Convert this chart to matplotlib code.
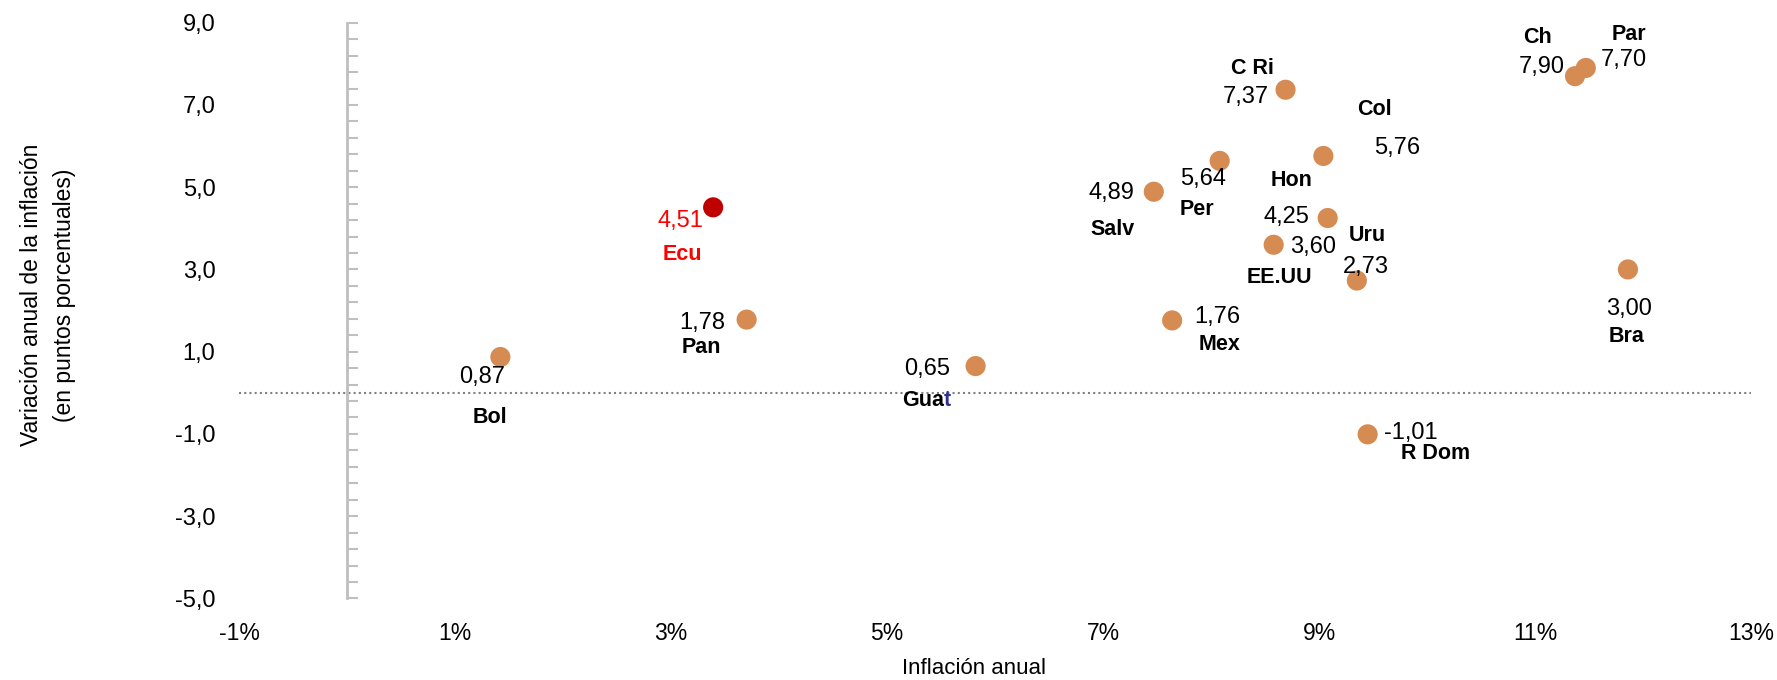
import matplotlib
matplotlib.use("Agg")
import matplotlib.pyplot as plt
from matplotlib.ticker import MultipleLocator, FuncFormatter

# data
countries = ["Bol", "Ecu", "Pan", "Guat", "Salv", "Mex", "Per", "C Ri",
             "EE.UU", "Col", "Hon", "Uru", "R Dom", "Par", "Ch", "Bra"]
inflation = [1.42, 3.39, 3.70, 5.82, 7.47, 7.64, 8.08, 8.69,
             8.58, 9.04, 9.08, 9.35, 9.45, 11.37, 11.47, 11.86]
variation = [0.87, 4.51, 1.78, 0.65, 4.89, 1.76, 5.64, 7.37,
             3.60, 5.76, 4.25, 2.73, -1.01, 7.70, 7.90, 3.00]
highlight = "Ecu"
y_ticks = [-5, -3, -1, 1, 3, 5, 7, 9]
x_ticks = [-1, 1, 3, 5, 7, 9, 11, 13]

# label offsets in reference pixels (value label, name label), y down
offsets = {
    "Bol": ((-16, 18), (-9, 53)),
    "Ecu": ((-29, 12), (-27, 42)),
    "Pan": ((-39, 3), (-40, 25)),
    "Guat": ((-43, 3), (-43, 30)),
    "Salv": ((-37, 1), (-36, 33)),
    "Mex": ((40, -3), (42, 21)),
    "Per": ((-15, 16), (-20, 43)),
    "C Ri": ((-35, 6), (-29, -19)),
    "EE.UU": ((35, 2), (5, 29)),
    "Col": ((65, -7), (45, -41)),
    "Hon": ((-36, -1), (-32, -33)),
    "Uru": ((8, -12), (9, -40)),
    "R Dom": ((38, -1), (60, 17)),
    "Par": ((43, -14), (48, -37)),
    "Ch": ((-39, -1), (-43, -27)),
    "Bra": ((1, 35), (-1, 59)),
}
PX = 0.816  # reference px -> points

font = ["Liberation Sans", "DejaVu Sans"]

fig = plt.figure(figsize=(17.77, 6.8), dpi=100)
ax = fig.add_axes([0.1345, 0.12, 0.8509, 0.8466])

dot = "#D68B52"
red_dot = "#C00000"
colors = [red_dot if c == highlight else dot for c in countries]
ax.scatter(inflation, variation, s=210, c=colors, zorder=3, linewidths=0)

ax.set_xlim(-1, 13)
ax.set_ylim(-5, 9)
ax.axhline(0, color="#808080", lw=1.5, ls=(0, (1, 1.5)), zorder=1)

for c, x, y in zip(countries, inflation, variation):
    (vx, vy), (nx, ny) = offsets[c]
    col = "#FF0000" if c == highlight else "black"
    ax.annotate(f"{y:.2f}".replace(".", ","), (x, y),
                xytext=(vx * PX, -vy * PX), textcoords="offset points",
                ha="center", va="center", fontsize=17, color=col,
                family=font)
    if c == "Guat":
        # last letter drawn in blue as in the source
        ax.annotate("Gua", (x, y), xytext=((nx + 15) * PX, -ny * PX),
                    textcoords="offset points", ha="right", va="center",
                    fontsize=15.5, fontweight="bold", family=font)
        ax.annotate("t", (x, y), xytext=((nx + 15) * PX, -ny * PX),
                    textcoords="offset points", ha="left", va="center",
                    fontsize=15.5, fontweight="bold", color="#2E3192",
                    family=font)
    else:
        ax.annotate(c, (x, y), xytext=(nx * PX, -ny * PX),
                    textcoords="offset points", ha="center", va="center",
                    fontsize=15.5, fontweight="bold", color=col,
                    family=font)

# vertical axis line at x = 0 with inward ticks
for s in ["top", "right", "bottom"]:
    ax.spines[s].set_visible(False)
ax.spines["left"].set_position(("data", 0))
ax.spines["left"].set_color("#BFBFBF")
ax.spines["left"].set_linewidth(2)
ax.set_yticks(y_ticks)
ax.yaxis.set_minor_locator(MultipleLocator(0.4, offset=0.2))
ax.tick_params(axis="y", which="both", direction="in", color="#BFBFBF",
               width=1.5, length=8, labelleft=False)

# tick labels at the left edge
sec = ax.secondary_yaxis(0)
sec.set_yticks(y_ticks)
sec.yaxis.set_major_formatter(FuncFormatter(lambda v, p: f"{v:.1f}".replace(".", ",")))
sec.tick_params(length=0, pad=17, labelsize=17)
sec.spines["left"].set_visible(False)
for lab in sec.get_yticklabels():
    lab.set_family(font)

ax.set_xticks(x_ticks)
ax.xaxis.set_major_formatter(FuncFormatter(lambda v, p: f"{v:.0f}%"))
ax.tick_params(axis="x", length=0, pad=17, labelsize=16.5)
for lab in ax.get_xticklabels():
    lab.set_family(font)

ax.set_xlabel("Inflación anual", fontsize=16, family=font)
ax.xaxis.label.set_va("center")
ax.xaxis.set_label_coords(0.486, -0.122)
fig.text(0.027, 0.566, "Variación anual de la inflación\n(en puntos porcentuales)",
         rotation=90, ha="center", va="center", fontsize=16.5, family=font,
         linespacing=1.55)

fig.savefig("out.png", dpi=100)
